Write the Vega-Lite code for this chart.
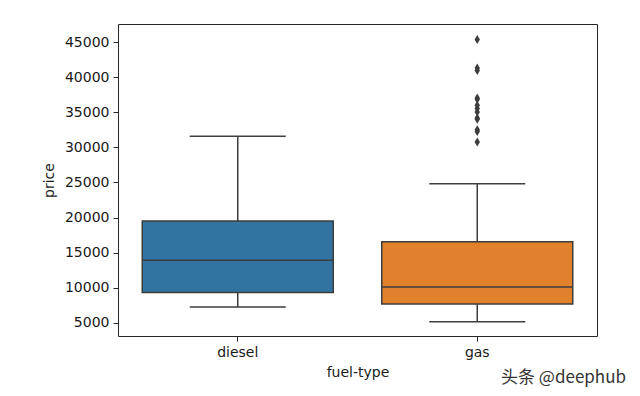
{
  "$schema": "https://vega.github.io/schema/vega-lite/v6.json",
  "autosize": "none",
  "width": 479,
  "height": 312,
  "padding": {"left": 118, "top": 24, "right": 43, "bottom": 60},
  "background": "white",
  "config": {
    "view": {"stroke": "#262626", "strokeWidth": 1},
    "font": "DejaVu Sans",
    "axis": {
      "grid": false,
      "domain": false,
      "tickColor": "#262626",
      "tickSize": 5,
      "labelFontSize": 14,
      "labelColor": "#1a1a1a",
      "titleFontSize": 14,
      "titleFontWeight": "normal",
      "titleColor": "#1a1a1a",
      "labelFont": "DejaVu Sans",
      "titleFont": "DejaVu Sans",
      "labelOverlap": false
    }
  },
  "title": {
    "text": "头条 @deephub",
    "orient": "bottom",
    "anchor": "end",
    "offset": -9,
    "font": "Noto Sans CJK SC",
    "fontSize": 17,
    "fontWeight": "normal",
    "color": "#333333",
    "dx": 29
  },
  "datasets": {
    "summary": [
      {"fuel": "diesel", "lower": 7250, "q1": 9300, "median": 13900, "q3": 19500, "upper": 31600},
      {"fuel": "gas", "lower": 5118, "q1": 7650, "median": 10100, "q3": 16550, "upper": 24800}
    ],
    "outliers": [
      {"fuel": "gas", "price": 30760},
      {"fuel": "gas", "price": 41315},
      {"fuel": "gas", "price": 36880},
      {"fuel": "gas", "price": 32250},
      {"fuel": "gas", "price": 35550},
      {"fuel": "gas", "price": 36000},
      {"fuel": "gas", "price": 45400},
      {"fuel": "gas", "price": 34184},
      {"fuel": "gas", "price": 35056},
      {"fuel": "gas", "price": 40960},
      {"fuel": "gas", "price": 32528},
      {"fuel": "gas", "price": 34028},
      {"fuel": "gas", "price": 37028}
    ]
  },
  "encoding": {
    "x": {
      "field": "fuel",
      "type": "nominal",
      "title": "fuel-type",
      "sort": ["diesel", "gas"],
      "scale": {"paddingInner": 0, "paddingOuter": 0},
      "axis": {"labelAngle": 0, "labelPadding": 4, "titlePadding": 6}
    }
  },
  "layer": [
    {
      "data": {"name": "summary"},
      "mark": {"type": "rule", "color": "#3d3d3d", "strokeWidth": 1.5},
      "encoding": {
        "y": {
          "field": "lower",
          "type": "quantitative",
          "title": "price",
          "scale": {"domain": [3100, 47600], "nice": false, "zero": false},
          "axis": {"values": [5000, 10000, 15000, 20000, 25000, 30000, 35000, 40000, 45000], "tickCount": 20, "format": "d", "labelOverlap": false, "labelPadding": 4, "titlePadding": 8}
        },
        "y2": {"field": "upper"}
      }
    },
    {
      "data": {"name": "summary"},
      "mark": {"type": "bar", "size": 191, "stroke": "#3d3d3d", "strokeWidth": 1.5, "opacity": 1},
      "encoding": {
        "y": {"field": "q1", "type": "quantitative"},
        "y2": {"field": "q3"},
        "color": {
          "field": "fuel",
          "type": "nominal",
          "scale": {"domain": ["diesel", "gas"], "range": ["#3274a1", "#e1812c"]},
          "legend": null
        }
      }
    },
    {
      "data": {"name": "summary"},
      "mark": {"type": "tick", "orient": "horizontal", "size": 191, "thickness": 1.5, "color": "#3d3d3d", "opacity": 1},
      "encoding": {"y": {"field": "median", "type": "quantitative"}}
    },
    {
      "data": {"name": "summary"},
      "mark": {"type": "tick", "orient": "horizontal", "size": 96, "thickness": 1.5, "color": "#3d3d3d", "opacity": 1},
      "encoding": {"y": {"field": "lower", "type": "quantitative"}}
    },
    {
      "data": {"name": "summary"},
      "mark": {"type": "tick", "orient": "horizontal", "size": 96, "thickness": 1.5, "color": "#3d3d3d", "opacity": 1},
      "encoding": {"y": {"field": "upper", "type": "quantitative"}}
    },
    {
      "data": {"name": "outliers"},
      "mark": {"type": "point", "shape": "M0,-1L0.6,0L0,1L-0.6,0Z", "size": 81, "filled": true, "color": "#3d3d3d", "opacity": 1},
      "encoding": {"y": {"field": "price", "type": "quantitative"}}
    }
  ]
}
